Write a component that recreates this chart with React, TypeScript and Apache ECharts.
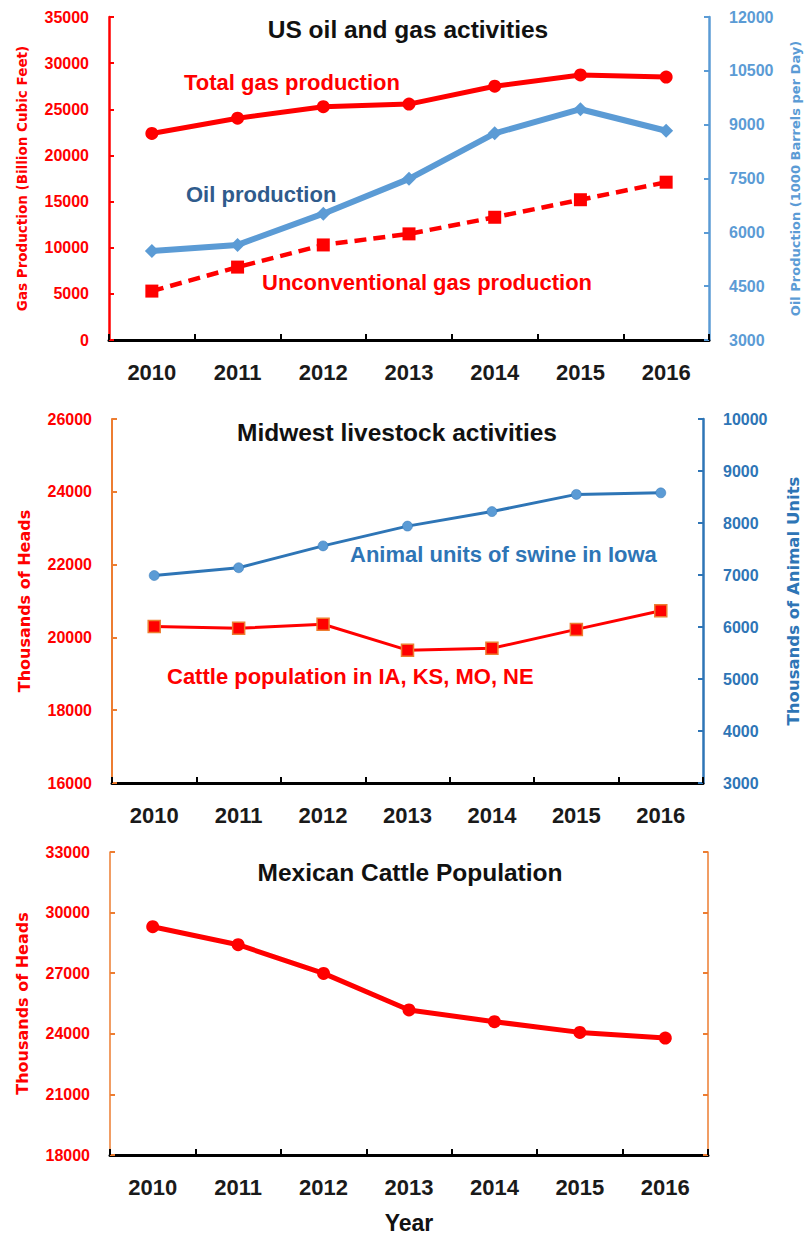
import React, { useEffect, useRef } from "react";
import * as echarts from "echarts";

const years = ["2010", "2011", "2012", "2013", "2014", "2015", "2016"];
const totalGas = [22382, 24036, 25283, 25562, 27498, 28720, 28490];
const unconvGas = [5300, 7900, 10300, 11500, 13300, 15200, 17100];
const oilProd = [5480, 5650, 6520, 7490, 8760, 9430, 8830];
const cattleMidwest = [20300, 20250, 20360, 19650, 19700, 20220, 20730];
const swineIowa = [6990, 7140, 7560, 7940, 8220, 8550, 8580];
const mexicoCattle = [29300, 28410, 26990, 25180, 24600, 24070, 23790];

const RED = "#FF0000";
const LBLUE = "#5B9BD5";
const BLUE2 = "#2E75B6";
const ORANGE = "#ED7D31";
const OILTXT = "#2F5B8C";
const FONT = "'Liberation Sans', Arial, sans-serif";
const NAMEFONT = "'DejaVu Sans', Verdana, sans-serif";

function yAx(grid: number, pos: "left" | "right", min: number, max: number, interval: number, lineColor: string, labelColor: string, name: string, nameSize: number, nameGap: number, lineWidth: number, showLabel = true) {
  return {
    type: "value",
    gridIndex: grid,
    position: pos,
    min,
    max,
    interval,
    name,
    nameLocation: "middle",
    nameGap,
    nameRotate: 90,
    nameTextStyle: { color: pos === "left" ? RED : labelColor, fontSize: nameSize, fontWeight: "bold", fontFamily: NAMEFONT },
    splitLine: { show: false },
    axisLine: { show: true, lineStyle: { color: lineColor, width: lineWidth } },
    axisTick: { show: true, inside: true, length: 5, lineStyle: { color: lineColor, width: 2 } },
    axisLabel: {
      show: showLabel, color: labelColor, fontSize: 16, fontWeight: "bold", fontFamily: FONT, margin: 20,
      formatter: (v: number) => String(v),
    },
  };
}

function xAx(grid: number) {
  return {
    type: "category",
    gridIndex: grid,
    data: years,
    boundaryGap: true,
    axisLine: { show: true, lineStyle: { color: "#000", width: 3 } },
    axisTick: { show: true, inside: true, length: 6, alignWithLabel: false, lineStyle: { color: "#000", width: 2 } },
    axisLabel: { color: "#1a1a1a", fontSize: 22, fontWeight: "bold", fontFamily: FONT, margin: 21 },
    splitLine: { show: false },
  };
}

function txt(x: number, y: number, text: string, fill: string, size: number, align = "left") {
  return {
    type: "text",
    x,
    y,
    style: { text, fill, fontSize: size, fontWeight: "bold", fontFamily: FONT, textAlign: align, textVerticalAlign: "middle" },
  };
}

export default function App() {
  const ref = useRef<HTMLDivElement>(null);
  useEffect(() => {
    document.body.style.margin = "0";
    const chart = echarts.init(ref.current!, null, { renderer: "svg" });
    chart.setOption({
      animation: false,
      backgroundColor: "#fff",
      textStyle: { fontFamily: FONT },
      grid: [
        { left: 109, top: 17, width: 603, height: 323 },
        { left: 112, top: 419, width: 596, height: 364 },
        { left: 110, top: 852, width: 598, height: 303 },
      ],
      xAxis: [xAx(0), xAx(1), xAx(2)],
      yAxis: [
        yAx(0, "left", 0, 35000, 5000, RED, RED, "Gas Production (Billion Cubic Feet)", 13.5, 80, 2.5),
        yAx(0, "right", 3000, 12000, 1500, LBLUE, LBLUE, "Oil Production (1000 Barrels per Day)", 13, 80, 2.5),
        yAx(1, "left", 16000, 26000, 2000, ORANGE, RED, "Thousands of Heads", 16, 80, 2),
        yAx(1, "right", 3000, 10000, 1000, BLUE2, BLUE2, "Thousands of Animal Units", 16.5, 82, 2.5),
        yAx(2, "left", 18000, 33000, 3000, ORANGE, RED, "Thousands of Heads", 16, 80, 1.5),
        yAx(2, "right", 18000, 33000, 3000, ORANGE, RED, "", 12, 10, 1.5, false),
      ],
      series: [
        {
          name: "Total gas production", type: "line", xAxisIndex: 0, yAxisIndex: 0, data: totalGas,
          symbol: "circle", symbolSize: 13, itemStyle: { color: RED }, lineStyle: { color: RED, width: 5 },
        },
        {
          name: "Oil production", type: "line", xAxisIndex: 0, yAxisIndex: 1, data: oilProd,
          symbol: "diamond", symbolSize: 14, itemStyle: { color: LBLUE }, lineStyle: { color: LBLUE, width: 6 },
        },
        {
          name: "Unconventional gas production", type: "line", xAxisIndex: 0, yAxisIndex: 0, data: unconvGas,
          symbol: "rect", symbolSize: 13, itemStyle: { color: RED }, lineStyle: { color: RED, width: 4.5, type: [12, 7] },
        },
        {
          name: "Cattle population in IA, KS, MO, NE", type: "line", xAxisIndex: 1, yAxisIndex: 2, data: cattleMidwest,
          symbol: "rect", symbolSize: 12, itemStyle: { color: RED, borderColor: ORANGE, borderWidth: 1.5 }, lineStyle: { color: RED, width: 3 },
        },
        {
          name: "Animal units of swine in Iowa", type: "line", xAxisIndex: 1, yAxisIndex: 3, data: swineIowa,
          symbol: "circle", symbolSize: 10, itemStyle: { color: LBLUE, borderColor: BLUE2, borderWidth: 0.5 }, lineStyle: { color: BLUE2, width: 3 },
        },
        {
          name: "Mexican Cattle Population", type: "line", xAxisIndex: 2, yAxisIndex: 4, data: mexicoCattle,
          symbol: "circle", symbolSize: 13, itemStyle: { color: RED }, lineStyle: { color: RED, width: 5 },
        },
      ],
      graphic: [
        txt(408, 29, "US oil and gas activities", "#111", 24.5, "center"),
        txt(184, 82, "Total gas production", RED, 22),
        txt(186, 194, "Oil production", OILTXT, 22),
        txt(262, 282, "Unconventional gas production", RED, 22),
        txt(397, 432, "Midwest livestock activities", "#111", 24.5, "center"),
        txt(350, 554, "Animal units of swine in Iowa", BLUE2, 22),
        txt(167, 676, "Cattle population in IA, KS, MO, NE", RED, 22),
        txt(410, 872, "Mexican Cattle Population", "#111", 24.5, "center"),
        txt(409, 1223, "Year", "#111", 23, "center"),
      ],
    });
    return () => chart.dispose();
  }, []);
  return <div ref={ref} style={{ width: 810, height: 1236 }} />;
}
